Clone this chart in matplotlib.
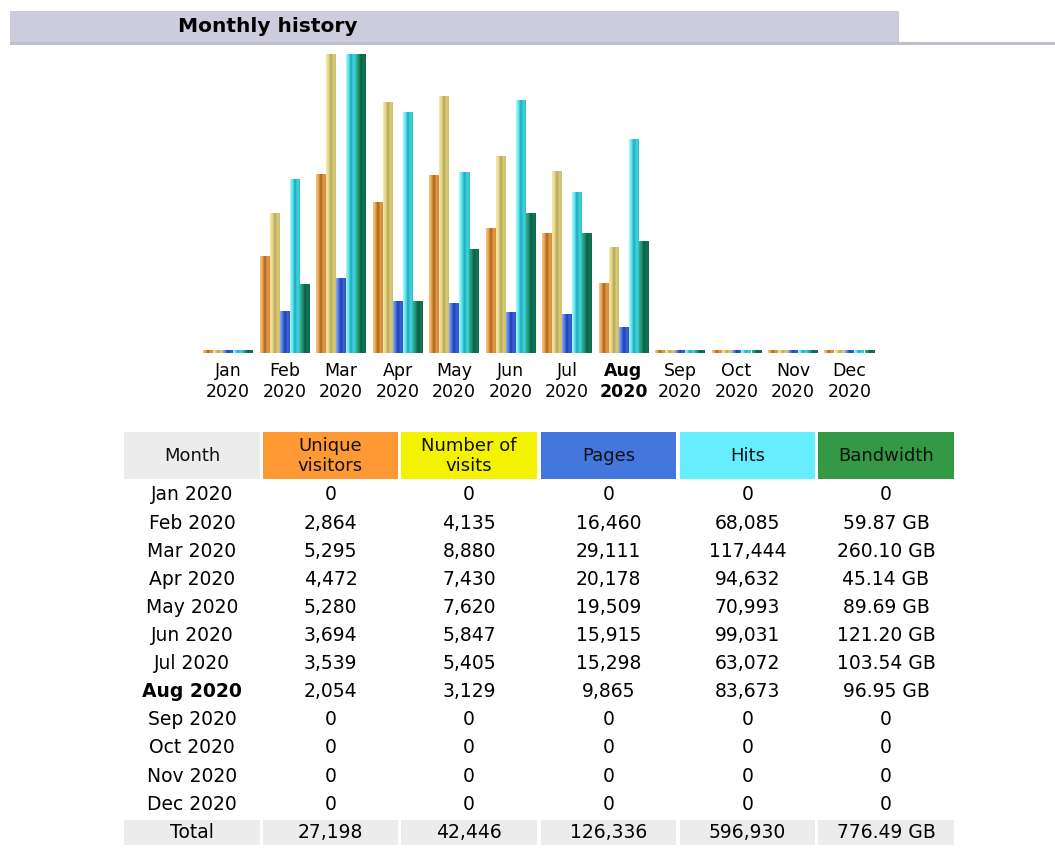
import numpy as np
import matplotlib.pyplot as plt
from matplotlib.colors import LinearSegmentedColormap
from matplotlib.patches import Rectangle

months = ["Jan", "Feb", "Mar", "Apr", "May", "Jun",
          "Jul", "Aug", "Sep", "Oct", "Nov", "Dec"]
year = "2020"
visitors = [0, 2864, 5295, 4472, 5280, 3694, 3539, 2054, 0, 0, 0, 0]
visits = [0, 4135, 8880, 7430, 7620, 5847, 5405, 3129, 0, 0, 0, 0]
pages = [0, 16460, 29111, 20178, 19509, 15915, 15298, 9865, 0, 0, 0, 0]
hits = [0, 68085, 117444, 94632, 70993, 99031, 63072, 83673, 0, 0, 0, 0]
bandwidth_gb = [0, 59.87, 260.10, 45.14, 89.69, 121.20, 103.54, 96.95, 0, 0, 0, 0]
current_month = 7  # Aug shown in bold

headers = ["Month", "Unique\nvisitors", "Number of\nvisits", "Pages", "Hits", "Bandwidth"]
header_colors = ["#ECECEC", "#FF9933", "#F3F300", "#4477DD", "#66EEFF", "#339944"]

# gradient look of the awstats bar images (left -> right)
bar_grads = [
    ["#F6C884", "#E9A24C", "#A8621A", "#E39A48", "#D88A38"],
    ["#F2E8A8", "#E6D888", "#B4A458", "#DCCC7C", "#CDBD68"],
    ["#8AAAF4", "#5078E4", "#1C3EB0", "#3C62D4", "#2F54C4"],
    ["#B0F6FA", "#5CE6EE", "#1CA8B8", "#44D4DE", "#2EC0CC"],
    ["#38AE8E", "#1E9474", "#0A5E44", "#137656", "#0E6A4C"],
]

W, H = 1055, 866
fig = plt.figure(figsize=(W / 100, H / 100), dpi=100)
plt.rcParams['font.family'] = ['DejaVu Sans']


def fx(x):
    return x / W


def fy(y):
    return 1 - y / H


# header band
fig.add_artist(Rectangle((fx(10), fy(42)), fx(889), 31 / H, transform=fig.transFigure,
                         facecolor="#CCCCDD", edgecolor="none"))
fig.add_artist(Rectangle((fx(10), fy(45)), fx(1045), 3 / H, transform=fig.transFigure,
                         facecolor="#C0C0CC", edgecolor="none"))
fig.text(fx(178), fy(27), "Monthly history", fontsize=14.5, fontweight="bold",
         va="center", ha="left", color="#000000")

# bar chart
step = 56.5
ax = fig.add_axes([fx(228 - step / 2), fy(353), fx(12 * step), 299 / H])
x = np.arange(len(months))
bw = 10 / step

vmax = max(visits)
hmax = max(hits)
kmax = max(bandwidth_gb)
series = [np.array(visitors) / vmax, np.array(visits) / vmax,
          np.array(pages) / hmax, np.array(hits) / hmax,
          np.array(bandwidth_gb) / kmax]

grad = np.linspace(0, 1, 32).reshape(1, -1)
for j, vals in enumerate(series):
    vals = np.maximum(vals, 0.008)
    cmap = LinearSegmentedColormap.from_list("g%d" % j, bar_grads[j])
    bars = ax.bar(x + (j - 2) * bw, vals, width=bw, color=bar_grads[j][1], linewidth=0, zorder=1)
    for b in bars:
        ax.imshow(grad, cmap=cmap, aspect="auto", interpolation="bilinear", zorder=2,
                  extent=(b.get_x(), b.get_x() + b.get_width(), 0, b.get_height()))

ax.set_xlim(-0.5, len(months) - 0.5)
ax.set_ylim(0, 1)
ax.set_aspect("auto")
ax.axis("off")

for i, m in enumerate(months):
    ax.text(i, -0.03, m + "\n" + year, ha="center", va="top", fontsize=12.5,
            linespacing=1.2, color="#000000",
            fontweight="bold" if i == current_month else "normal")

# table
col_edges = [(124, 260), (263, 398), (401, 537), (541, 676), (680, 815), (818, 954)]
for (x0, x1), head, c in zip(col_edges, headers, header_colors):
    fig.add_artist(Rectangle((fx(x0), fy(479)), fx(x1 - x0), 47 / H, transform=fig.transFigure,
                             facecolor=c, edgecolor="none"))
    fig.text(fx((x0 + x1) / 2), fy(456), head, ha="center", va="center", fontsize=13,
             linespacing=1.1, color="#111111")


def fmt_int(v):
    return "{:,}".format(v)


def fmt_bw(v):
    return "0" if v == 0 else "{:.2f} GB".format(v)


row_y0, row_step = 495, 28.1
for i, m in enumerate(months):
    yy = fy(row_y0 + i * row_step)
    cells = [m + " " + year, fmt_int(visitors[i]), fmt_int(visits[i]),
             fmt_int(pages[i]), fmt_int(hits[i]), fmt_bw(bandwidth_gb[i])]
    for k, ((x0, x1), s) in enumerate(zip(col_edges, cells)):
        fig.text(fx((x0 + x1) / 2), yy, s, ha="center", va="center", fontsize=13.5,
                 color="#000000",
                 fontweight="bold" if (k == 0 and i == current_month) else "normal")

totals = ["Total", fmt_int(sum(visitors)), fmt_int(sum(visits)), fmt_int(sum(pages)),
          fmt_int(sum(hits)), "{:.2f} GB".format(sum(bandwidth_gb))]
for (x0, x1), s in zip(col_edges, totals):
    fig.add_artist(Rectangle((fx(x0), fy(845)), fx(x1 - x0), 25 / H, transform=fig.transFigure,
                             facecolor="#ECECEC", edgecolor="none"))
    fig.text(fx((x0 + x1) / 2), fy(832), s, ha="center", va="center", fontsize=13.5,
             color="#000000")

fig.savefig("out.png", dpi=100)
